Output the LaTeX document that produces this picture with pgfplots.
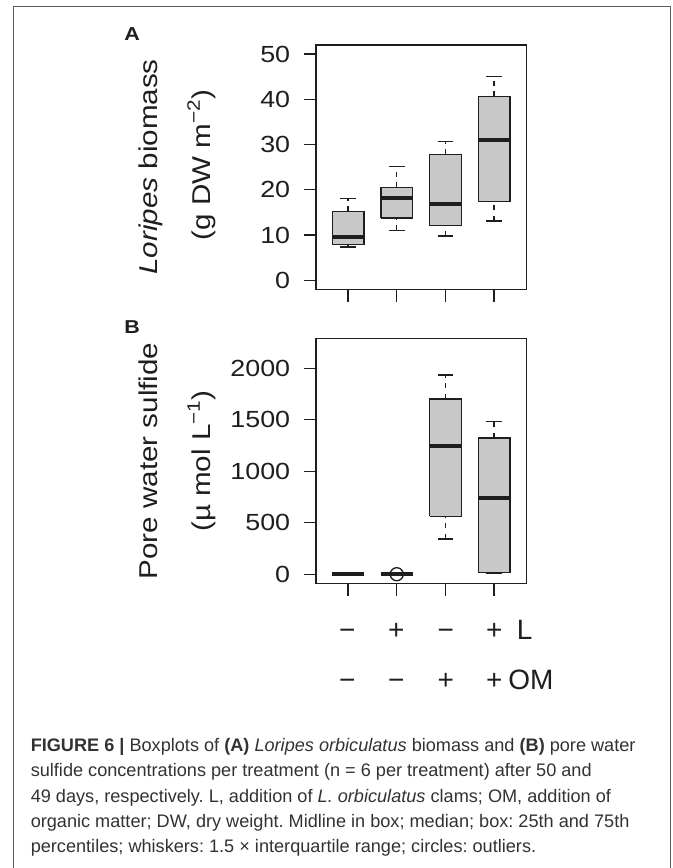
\documentclass[border=0pt]{standalone}
\usepackage{fontspec}
\setmainfont{Liberation Sans}[FakeStretch=1.15]
\newfontfamily\plainsans{Liberation Sans}
\newfontfamily\capfont{Liberation Sans}
\usepackage{pgfplots}
\pgfplotsset{compat=1.18}
\definecolor{boxgray}{RGB}{200,200,200}
\definecolor{framegray}{RGB}{95,95,95}
\definecolor{ink}{RGB}{30,30,30}
\definecolor{capink}{RGB}{50,50,50}

\pgfplotsset{
  boxst/.style={fill=boxgray, draw=ink, line width=1pt},
  medst/.style={draw=ink, line width=3pt},
  whiskst/.style={draw=ink, line width=1pt, dash pattern=on 4pt off 4pt},
  capst/.style={draw=ink, line width=1pt},
  rbox/.style={
    axis line style={ink, line width=1pt},
    scale only axis,
    xmin=0.34, xmax=4.66,
    xtick={1,2,3,4}, xticklabels={},
    tick align=outside, tick pos=left,
    major tick length=9.3pt,
    every tick/.style={ink, line width=1pt},
    yticklabel style={font=\fontsize{17.5}{20}\selectfont, text=ink, xshift=-6.5pt},
    /pgf/number format/assume math mode=true,
    /pgf/number format/1000 sep={},
    clip=false,
  }
}
% \rbox{position}{lower whisker}{lower quartile}{median}{upper quartile}{upper whisker}
\newcommand{\rbox}[6]{%
  \pgfmathsetmacro\xl{#1-0.325}\pgfmathsetmacro\xr{#1+0.325}%
  \pgfmathsetmacro\cl{#1-0.1625}\pgfmathsetmacro\cr{#1+0.1625}%
  \edef\tmp{%
    \noexpand\addplot[boxst] coordinates {(\xl,#3) (\xr,#3) (\xr,#5) (\xl,#5) (\xl,#3)};
    \noexpand\addplot[whiskst] coordinates {(#1,#2) (#1,#3)};
    \noexpand\addplot[whiskst] coordinates {(#1,#5) (#1,#6)};
    \noexpand\addplot[capst] coordinates {(\cl,#2) (\cr,#2)};
    \noexpand\addplot[capst] coordinates {(\cl,#6) (\cr,#6)};
    \noexpand\addplot[medst] coordinates {(\xl,#4) (\xr,#4)};
  }\tmp
}

\begin{document}
\frenchspacing
\begin{tikzpicture}[x=0.75pt, y=0.75pt]
\path[use as bounding box] (0,0) rectangle (672,868);
% frame
\draw[framegray, line width=1pt] (13.3,0) -- (13.3,868-6.3) -- (670.8,868-6.3) -- (670.8,0);

% ---------------- Panel A
\begin{axis}[rbox,
  at={(236.925pt,434.025pt)}, anchor=south west,
  width=157.8pt, height=183.225pt,
  ymin=-2, ymax=52, ytick={0,10,20,30,40,50}]
\rbox{1}{7.37}{7.89}{9.59}{15.26}{18.07}
\rbox{2}{11.06}{13.79}{18.14}{20.43}{25.07}
\rbox{3}{9.81}{12.1}{16.96}{27.8}{30.6}
\rbox{4}{13.13}{17.48}{30.97}{40.56}{44.98}
\end{axis}

% ---------------- Panel B
\begin{axis}[rbox,
  at={(236.925pt,213.525pt)}, anchor=south west,
  width=157.8pt, height=183.45pt,
  ymin=-88, ymax=2288, ytick={0,500,1000,1500,2000}]
\rbox{1}{0}{0}{0}{0}{0}
\rbox{2}{0}{0}{0}{0}{0}
\rbox{3}{343}{564}{1245}{1702}{1935}
\rbox{4}{6.5}{16.5}{736}{1323}{1481}
\addplot[only marks, mark=o, mark size=4.9pt, mark options={draw=ink, line width=1pt, solid}] coordinates {(2,0)};
\end{axis}

% panel letters
\node[font=\bfseries\fontsize{14}{16}\selectfont, text=ink] at (132,868-34) {A};
\node[font=\bfseries\fontsize{14}{16}\selectfont, text=ink] at (132,868-327.5) {B};

% y labels
\begin{scope}[every node/.style={rotate=90, anchor=base, text=ink, font=\fontsize{19.3}{22}\selectfont}]
\node at (157.7,868-167) {\textit{Loripes} biomass};
\node at (210,868-165) {(g DW m\textsuperscript{−2})};
\node at (157.7,868-461) {Pore water sulfide};
\node at (210,868-461) {(µ mol L\textsuperscript{−1})};
\end{scope}

% treatment labels
\begin{scope}[every node/.style={anchor=base, text=ink, font=\plainsans\fontsize{21}{24}\selectfont}]
\node at (347.2,868-640) {−};
\node at (396.4,868-640) {+};
\node at (445.7,868-640) {−};
\node at (494.2,868-640) {+};
\node[anchor=base west, inner sep=0pt] at (516.5,868-640) {L};
\node at (347.2,868-689.3) {−};
\node at (396.4,868-689.3) {−};
\node at (445.7,868-689.3) {+};
\node at (494.2,868-689.3) {+};
\node[anchor=base west, inner sep=0pt] at (508,868-689.3) {OM};
\end{scope}

% caption
\begin{scope}[every node/.style={anchor=base west, inner sep=0pt, text=capink, font=\capfont\fontsize{13.6}{16}\selectfont}]
\node at (30.5,868-751.7) {\textbf{FIGURE 6 |} Boxplots of \textbf{(A)} \textit{Loripes orbiculatus} biomass and \textbf{(B)} pore water};
\node at (30.5,868-776.9) {sulfide concentrations per treatment (n = 6 per treatment) after 50 and};
\node at (30.5,868-802.1) {49 days, respectively. L, addition of \textit{L. orbiculatus} clams; OM, addition of};
\node at (30.5,868-827.3) {organic matter; DW, dry weight. Midline in box; median; box: 25th and 75th};
\node at (30.5,868-852.5) {percentiles; whiskers: 1.5 × interquartile range; circles: outliers.};
\end{scope}
\end{tikzpicture}
\end{document}
